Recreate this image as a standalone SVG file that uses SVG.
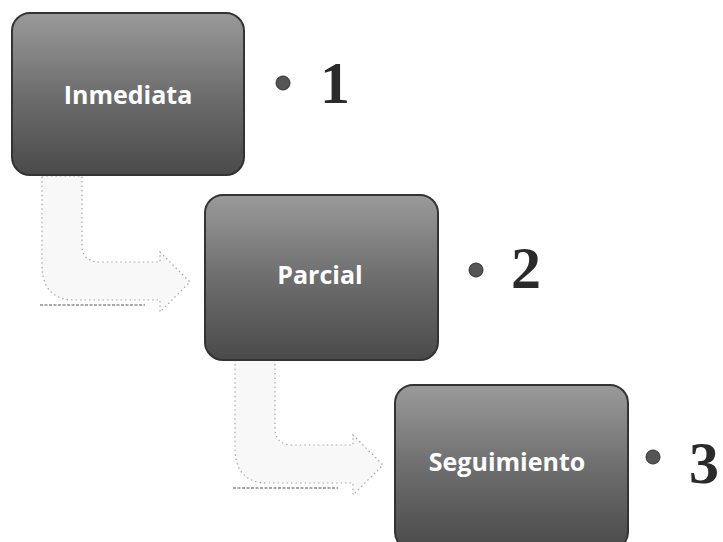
<svg xmlns="http://www.w3.org/2000/svg" width="723" height="542" viewBox="0 0 723 542">
  <defs>
    <linearGradient id="boxGrad" x1="0" y1="0" x2="0" y2="1">
      <stop offset="0" stop-color="#9a9a9a"/>
      <stop offset="0.5" stop-color="#6e6e6e"/>
      <stop offset="1" stop-color="#4a4a4a"/>
    </linearGradient>
    <style>
      .box { fill: url(#boxGrad); stroke: #333333; stroke-width: 2; }
      .label { font-family: "Open Sans", "Liberation Sans", sans-serif; font-weight: bold; font-size: 25px; fill: #ffffff; text-anchor: middle; }
      .num { font-family: "Liberation Serif", serif; font-weight: bold; font-size: 60px; fill: #2a2a2a; }
      .dot { fill: #555555; stroke: #333; stroke-width: 1; }
      .arrow { fill: #f8f8f8; stroke: #a8a8a8; stroke-width: 1.2; stroke-dasharray: 1.5 3; }
      .base { stroke: #555; stroke-width: 1.2; stroke-dasharray: 3 1.5; fill: none; }
    </style>
  </defs>

  <g id="connectors">
    <g id="arrow1">
      <path class="arrow" d="M42,176 L82,176 L82,245 Q82,262 100,262 L160,262 L160,252 L190,282 L160,312 L160,300 L75,300 Q42,300 42,265 Z"/>
      <line class="base" x1="40" y1="305" x2="145" y2="305"/>
    </g>
    <g id="arrow2" transform="translate(193,183)">
      <path class="arrow" d="M42,176 L82,176 L82,245 Q82,262 100,262 L160,262 L160,252 L190,282 L160,312 L160,300 L75,300 Q42,300 42,265 Z"/>
      <line class="base" x1="40" y1="305" x2="145" y2="305"/>
    </g>
  </g>

  <g id="node1">
    <rect class="box" x="12" y="13" width="232" height="162" rx="18"/>
    <text class="label" x="128" y="104">Inmediata</text>
  </g>
  <g id="item1">
    <circle class="dot" cx="283" cy="83" r="7"/>
    <text class="num" x="320" y="103">1</text>
  </g>

  <g id="node2">
    <rect class="box" x="205" y="195" width="233" height="165" rx="18"/>
    <text class="label" x="320" y="284">Parcial</text>
  </g>
  <g id="item2">
    <circle class="dot" cx="476" cy="270" r="7"/>
    <text class="num" x="511" y="288">2</text>
  </g>

  <g id="node3">
    <rect class="box" x="395" y="385" width="233" height="165" rx="18"/>
    <text class="label" x="507" y="471">Seguimiento</text>
  </g>
  <g id="item3">
    <circle class="dot" cx="653" cy="457" r="7"/>
    <text class="num" x="689" y="483">3</text>
  </g>
</svg>
